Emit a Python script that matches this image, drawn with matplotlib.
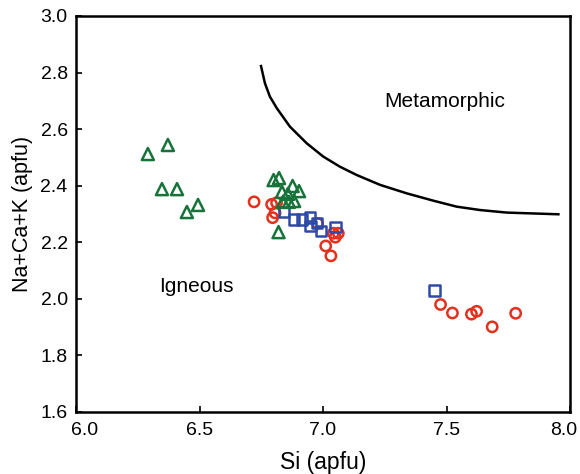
import matplotlib
matplotlib.use("Agg")
import matplotlib.pyplot as plt
import matplotlib.transforms as mtransforms

plt.rcParams['font.family'] = ['Liberation Sans', 'DejaVu Sans']

# Green triangles
tri_x = [6.291, 6.372, 6.348, 6.409, 6.449, 6.494,
         6.800, 6.822, 6.834, 6.877, 6.903, 6.858, 6.838, 6.862, 6.883, 6.820]
tri_y = [2.512, 2.544, 2.388, 2.388, 2.307, 2.332,
         2.420, 2.427, 2.378, 2.399, 2.381, 2.371, 2.343, 2.343, 2.346, 2.236]

# Red circles
cir_x = [6.721, 6.792, 6.812, 6.796, 6.806, 6.978, 7.042, 7.062, 7.050, 7.011, 7.032,
         7.476, 7.524, 7.601, 7.622, 7.685, 7.780]
cir_y = [2.343, 2.334, 2.340, 2.287, 2.304, 2.267, 2.232, 2.232, 2.218, 2.187, 2.152,
         1.980, 1.950, 1.946, 1.956, 1.901, 1.949]

# Blue squares
sq_x = [6.843, 6.884, 6.914, 6.947, 6.950, 6.977, 6.991, 7.051, 7.451]
sq_y = [2.308, 2.281, 2.281, 2.288, 2.258, 2.267, 2.241, 2.253, 2.030]

# Boundary curve
curve_x = [6.749, 6.765, 6.785, 6.813, 6.866, 6.934, 7.001, 7.069, 7.136, 7.231,
           7.339, 7.447, 7.541, 7.636, 7.744, 7.953]
curve_y = [2.823, 2.762, 2.715, 2.674, 2.609, 2.550, 2.503, 2.467, 2.438, 2.403,
           2.373, 2.347, 2.326, 2.314, 2.305, 2.299]

x_ticks = [6.0, 6.5, 7.0, 7.5, 8.0]
x_tick_labels = ['6.0', '6.5', '7.0', '7.5', '8.0']
y_ticks = [1.6, 1.8, 2.0, 2.2, 2.4, 2.6, 2.8, 3.0]
y_tick_labels = ['1.6', '1.8', '2.0', '2.2', '2.4', '2.6', '2.8', '3.0']

fig = plt.figure(figsize=(5.8, 4.74), dpi=100)
ax = fig.add_axes([76/580, 1 - 412/474, (570-76)/580, (412-16)/474])

ax.plot(curve_x, curve_y, color='black', lw=1.8, zorder=2, solid_joinstyle='round')

ax.scatter(cir_x, cir_y, s=55, marker='o', facecolors='none', edgecolors='#e2311d', linewidths=1.8, zorder=3)
ax.scatter(sq_x, sq_y, s=55, marker='s', facecolors='none', edgecolors='#2e4aa6', linewidths=1.8, zorder=4)
ax.scatter(tri_x, tri_y, s=75, marker='^', facecolors='none', edgecolors='#17733a', linewidths=1.8, zorder=5)

ax.text(7.494, 2.699, 'Metamorphic', fontsize=15, ha='center', va='center')
ax.text(6.486, 2.042, 'Igneous', fontsize=15, ha='center', va='center')

ax.set_xlim(6.0, 8.0)
ax.set_ylim(1.6, 3.0)
ax.set_xticks(x_ticks)
ax.set_yticks(y_ticks)
ax.set_xticklabels(x_tick_labels)
ax.set_yticklabels(y_tick_labels)
ax.tick_params(direction='in', length=4, width=1.2, labelsize=14)
ax.tick_params(axis='x', pad=7)
ax.tick_params(axis='y', pad=6)
for sp in ax.spines.values():
    sp.set_linewidth(1.8)

# shift the end x tick labels as in the reference
xl = ax.get_xticklabels()
xl[0].set_transform(xl[0].get_transform() + mtransforms.ScaledTranslation(9/100, 0, fig.dpi_scale_trans))
xl[-1].set_transform(xl[-1].get_transform() + mtransforms.ScaledTranslation(-6/100, 0, fig.dpi_scale_trans))

ax.set_xlabel('Si (apfu)', fontsize=16.5, labelpad=9)
ax.set_ylabel('Na+Ca+K (apfu)', fontsize=15.5, labelpad=5)

fig.savefig('out.png', dpi=100)
